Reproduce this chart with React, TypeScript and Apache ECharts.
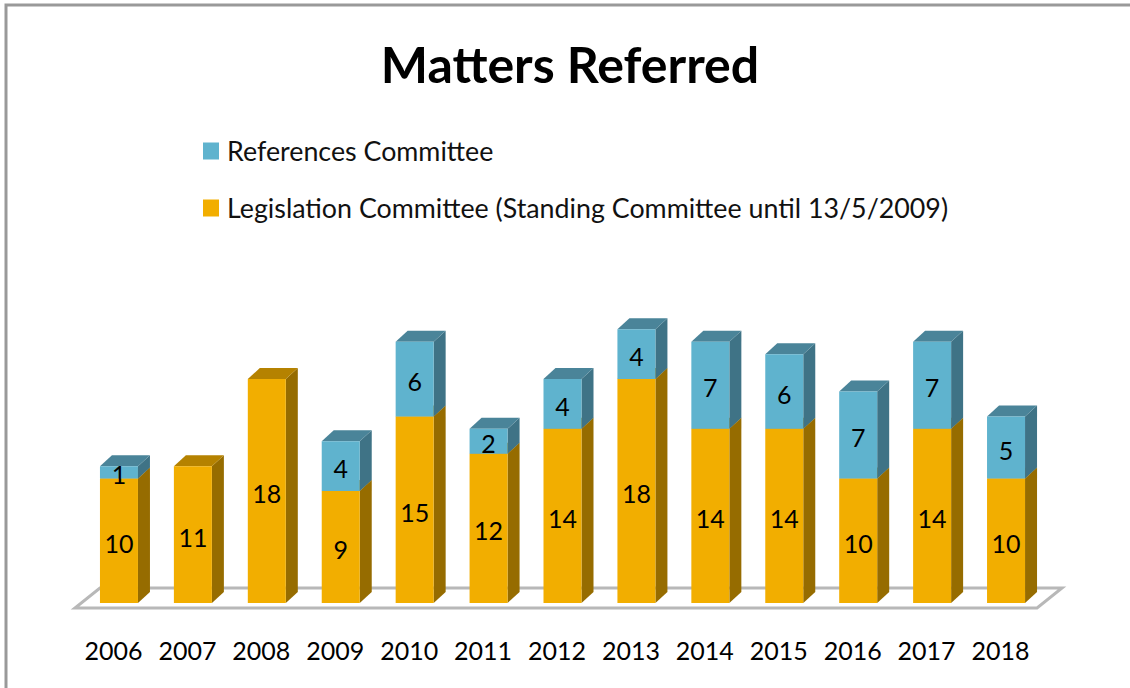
import React, { useEffect, useRef } from "react";
import * as echarts from "echarts";

const years = ["2006","2007","2008","2009","2010","2011","2012","2013","2014","2015","2016","2017","2018"];
const legislation = [10,11,18,9,15,12,14,18,14,14,10,14,10];
const references = [1,null,null,4,6,2,4,4,7,6,7,7,5];
const titleText = "Matters Referred";
const legislationName = "Legislation Committee (Standing Committee until 13/5/2009)";
const referencesName = "References Committee";

const FONT = "Lato";
const BAR_W = 38;
const DX = 12;
const DY = 11;

function barRender(front: string, side: string, top: string, starts: (number | null)[]) {
  return (params: any, api: any) => {
    const idx = api.value(0);
    const v = api.value(1);
    if (v == null || isNaN(v)) return { type: "group", children: [] };
    const s = starts[params.dataIndex] || 0;
    const p0 = api.coord([idx, s]);
    const p1 = api.coord([idx, s + v]);
    const x0 = p0[0] - BAR_W / 2;
    const x1 = p0[0] + BAR_W / 2;
    const yb = p0[1];
    const yt = p1[1];
    return {
      type: "group",
      children: [
        { type: "polygon", shape: { points: [[x1, yb], [x1 + DX, yb - DY], [x1 + DX, yt - DY], [x1, yt]] }, style: { fill: side } },
        { type: "polygon", shape: { points: [[x0, yt], [x1, yt], [x1 + DX, yt - DY], [x0 + DX, yt - DY]] }, style: { fill: top } },
        { type: "rect", shape: { x: x0, y: yt, width: BAR_W, height: yb - yt }, style: { fill: front } },
        {
          type: "text",
          z2: 10,
          style: {
            text: String(v),
            x: p0[0],
            y: (yb + yt) / 2 + 2,
            align: "center",
            verticalAlign: "middle",
            fontFamily: FONT,
            fontSize: 25,
            fill: "#000",
          },
        },
      ],
    };
  };
}

function floorRender(_: any, api: any) {
  const a = api.coord([0, 0]);
  const b = api.coord([years.length - 1, 0]);
  const yf = a[1] + 5;
  const yk = a[1] - 15;
  return {
    type: "polygon",
    shape: { points: [[a[0] - 44, yf], [b[0] + 31, yf], [b[0] + 56, yk], [a[0] - 19, yk]] },
    style: { fill: "#fff", stroke: "#b8b8b8", lineWidth: 3 },
  };
}

export default function App() {
  const ref = useRef<HTMLDivElement>(null);
  useEffect(() => {
    const chart = echarts.init(ref.current!, null, { renderer: "svg" });
    chart.setOption({
      animation: false,
      backgroundColor: "#fff",
      title: {
        text: titleText,
        left: 570,
        top: 39,
        padding: 0,
        textAlign: "center",
        textStyle: { fontFamily: FONT, fontWeight: "bold", fontSize: 50, color: "#000" },
      },
      legend: {
        orient: "vertical",
        left: 203,
        top: 135,
        padding: 0,
        icon: "rect",
        itemWidth: 16,
        itemHeight: 17,
        itemGap: 25,
        selectedMode: false,
        data: [referencesName, legislationName],
        textStyle: { fontFamily: FONT, fontSize: 26.8, lineHeight: 30, color: "#111", padding: [2, 0, 0, 3] },
      },
      grid: { left: 82, width: 961, top: 292, height: 311 },
      xAxis: {
        type: "category",
        data: years,
        axisLine: { show: false },
        axisTick: { show: false },
        axisLabel: { fontFamily: FONT, fontSize: 25, color: "#000", margin: 34, padding: [0, 11, 0, 0], interval: 0 },
      },
      yAxis: { type: "value", min: 0, max: 25, show: false, splitLine: { show: false } },
      graphic: [
        { type: "polyline", shape: { points: [[6, 688], [6, 5], [1130, 5]] }, style: { fill: "none", stroke: "#999", lineWidth: 3 } },
      ],
      series: [
        { type: "custom", name: "floor", renderItem: floorRender, data: [[0, 0]], silent: true, z: 1, encode: { x: 0, y: 1 } },
        {
          type: "custom",
          name: legislationName,
          z: 2,
          itemStyle: { color: "#F2AE00" },
          renderItem: barRender("#F2AE00", "#966C00", "#B58200", years.map(() => 0)),
          data: years.map((_, i) => [i, legislation[i]]),
          encode: { x: 0, y: 1 },
        },
        {
          type: "custom",
          name: referencesName,
          z: 3,
          itemStyle: { color: "#5FB3CE" },
          renderItem: barRender("#5FB3CE", "#3F7386", "#4A8499", legislation),
          data: years.map((_, i) => [i, references[i]]),
          encode: { x: 0, y: 1 },
        },
      ],
    });
    return () => chart.dispose();
  }, []);
  return <div ref={ref} style={{ position: "absolute", left: 0, top: 0, width: 1130, height: 688 }} />;
}
